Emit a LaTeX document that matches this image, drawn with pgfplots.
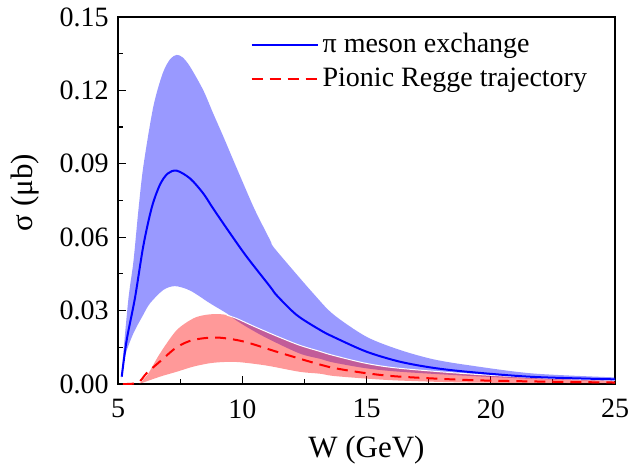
\documentclass[border=0pt]{standalone}
\usepackage{fontspec}
\setmainfont{Liberation Serif}
\usepackage{pgfplots}
\pgfplotsset{compat=1.18}
\usepgfplotslibrary{fillbetween}

\begin{document}
\begin{tikzpicture}
\begin{axis}[
  width=248.5pt, height=183.5pt, scale only axis,
  xmin=5, xmax=25, ymin=0, ymax=0.15,
  xtick={5,10,15,20,25}, minor x tick num=1,
  ytick={0,0.03,0.06,0.09,0.12,0.15}, minor y tick num=1,
  tick pos=left, tick align=inside,
  major tick length=4pt, minor tick length=2.5pt,
  axis line style={line width=0.75pt},
  every tick/.style={black, line width=0.6pt},
  /pgf/number format/assume math mode=true,
  scaled y ticks=false,
  y tick label style={/pgf/number format/fixed, /pgf/number format/fixed zerofill, /pgf/number format/precision=2},
  tick label style={font=\fontsize{14}{16}\selectfont, inner sep=0pt},
  y tick label style={anchor=east, xshift=-4.5pt},
  x tick label style={anchor=north, yshift=-7.5pt},
  label style={font=\fontsize{15.5}{18}\selectfont},
  xlabel={W (GeV)}, ylabel={σ (μb)},
  xlabel style={at={(axis description cs:0.5,0)}, anchor=base, yshift=-36.5pt, inner sep=0pt},
  ylabel style={at={(axis description cs:0,0.5)}, anchor=center, xshift=4pt, yshift=46.5pt, inner sep=0pt},
  legend style={draw=none, fill=none, font=\fontsize{14}{16}\selectfont,
    at={(rel axis cs:0.254,0.978)}, anchor=north west, row sep=2pt},
  legend cell align=left,
  legend image code/.code={\draw[#1] (0pt,0pt) -- (33pt,0pt);},
]

% blue band
\addplot[name path=bu, draw=none, smooth, forget plot] table {
5.12 0.002
5.41 0.034
5.62 0.050
5.82 0.071
6.02 0.089
6.42 0.1133
6.8 0.127
7.1 0.1328
7.36 0.1345
7.6 0.1335
7.90 0.1297
8.43 0.1201
8.83 0.1106
9.24 0.1011
9.64 0.0915
10.04 0.0820
10.51 0.0711
11.12 0.0588
11.25 0.0561
11.92 0.048
12.86 0.037
13.66 0.0285
15.0 0.0193
16.35 0.0139
17.69 0.0101
19.16 0.0076
21.7 0.0043
25 0.0027
};
\addplot[name path=bl, draw=none, smooth, forget plot] table {
5.12 0.002
5.3 0.012
5.62 0.0207
6.0 0.028
6.29 0.033
6.82 0.0384
7.29 0.0400
7.9 0.0382
8.70 0.0330
9.37 0.0289
9.7 0.0264
10.2 0.0232
11.0 0.0187
12.3 0.0125
13.13 0.0103
13.66 0.0088
15 0.0064
16.35 0.0050
19.16 0.0033
22 0.0020
25 0.0012
};
\addplot[fill=blue, fill opacity=0.4, draw=none, forget plot] fill between[of=bu and bl];

% red band
\addplot[name path=ru, draw=none, smooth, forget plot] table {
5.85 0.0
6.2 0.004
6.69 0.0125
7.36 0.022
8.03 0.0268
8.5 0.0282
8.97 0.0286
9.37 0.0282
9.77 0.0268
10.31 0.0243
10.71 0.0225
11.52 0.0190
12.32 0.0158
13.13 0.0133
13.66 0.0117
15 0.0084
16.35 0.0064
19.16 0.0041
22 0.0025
25 0.0015
};
\addplot[name path=rl, draw=none, smooth, forget plot] table {
5.85 0.0
6.69 0.003
7.36 0.005
8.03 0.0071
8.70 0.0085
9.3 0.0090
9.91 0.0089
11.0 0.0075
12.3 0.0050
13.13 0.0042
13.66 0.0033
15 0.0022
16.35 0.0014
19.16 0.0006
25 0.0002
};
\addplot[fill=red, fill opacity=0.4, draw=none, forget plot] fill between[of=ru and rl];
\addplot[white, line width=0.5pt, smooth, forget plot] table {
9.37 0.0282
9.77 0.0268
10.31 0.0243
10.71 0.0225
11.52 0.0190
12.32 0.0158
13.13 0.0133
13.66 0.0117
15 0.0084
16.35 0.0064
19.16 0.0041
22 0.0025
25 0.0015
};

% central lines
\addplot[blue, line width=1pt, smooth] table {
5.15 0.003
5.35 0.018
5.68 0.0350
6.02 0.0565
6.36 0.0722
6.69 0.0815
7.0 0.0860
7.36 0.0872
7.90 0.0840
8.43 0.0779
8.83 0.0717
9.51 0.0616
10.18 0.052
11.12 0.0398
11.39 0.0362
12.19 0.0282
13.13 0.0221
13.66 0.0193
15 0.0132
16.35 0.0091
17.69 0.0066
19.16 0.0049
21.7 0.0029
25 0.0019
};
\addlegendentry{π meson exchange}
\addplot[red, line width=1pt, dash pattern=on 5.5pt off 3.5pt, smooth] table {
5.2 0.0
5.8 0.0005
6.15 0.0044
6.69 0.0092
7.36 0.0150
8.03 0.0180
8.97 0.0190
10.04 0.0174
11.38 0.0132
12.73 0.0091
13.66 0.0066
15 0.0044
16.35 0.0030
19.16 0.0016
22 0.0010
25 0.0006
};
\addlegendentry{Pionic Regge trajectory}
\end{axis}
\path ([shift={(-59pt,-40.5pt)}]current axis.south west) rectangle ([shift={(7.5pt,8.5pt)}]current axis.north east);
\end{tikzpicture}
\end{document}
